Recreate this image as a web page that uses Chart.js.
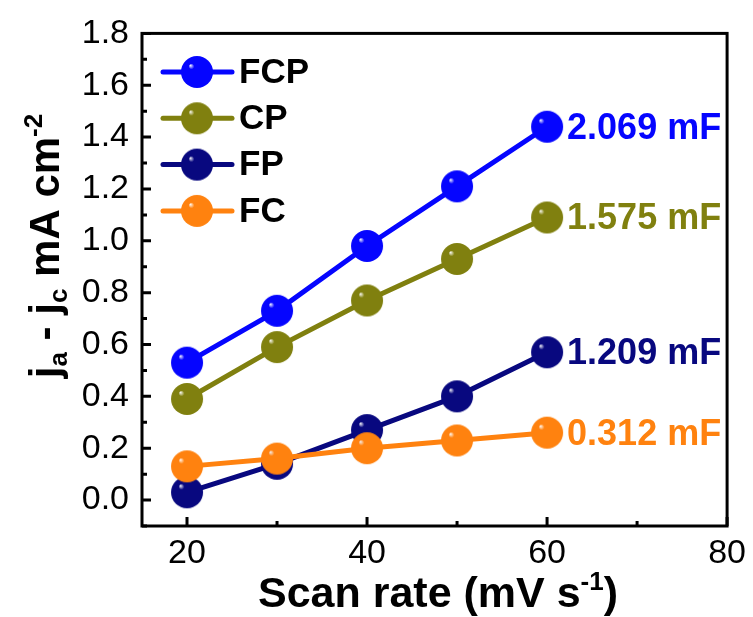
<!DOCTYPE html>
<html lang="en">

<head>
    <meta charset="UTF-8">
    <title>Scan rate vs current density difference</title>
    <script src="https://cdn.jsdelivr.net/npm/chart.js"></script>
    <style>
        html, body { margin: 0; padding: 0; background: #fff; }
        #wrap { width: 753px; height: 617px; }
    </style>
</head>

<body>
    <div id="wrap">
        <canvas id="cdlChart" width="753" height="617"></canvas>
    </div>

    <script>
        // Scan rates (mV/s) and j_a - j_c (mA cm-2) per sample
        const scanRate = [20, 30, 40, 50, 60];
        const seriesNames = ['FCP', 'CP', 'FP', 'FC'];
        const fcpValues = [0.53, 0.73, 0.98, 1.21, 1.44];
        const cpValues = [0.39, 0.59, 0.77, 0.93, 1.09];
        const fpValues = [0.03, 0.14, 0.27, 0.40, 0.57];
        const fcValues = [0.13, 0.16, 0.20, 0.23, 0.26];
        const capLabels = ['2.069 mF', '1.575 mF', '1.209 mF', '0.312 mF'];
        const xTickValues = [20, 40, 60, 80];
        const xMinorValues = [30, 50, 70];
        const yTickValues = [0.0, 0.2, 0.4, 0.6, 0.8, 1.0, 1.2, 1.4, 1.6, 1.8];
        const yMinorValues = [-0.1, 0.1, 0.3, 0.5, 0.7, 0.9, 1.1, 1.3, 1.5, 1.7];

        const colors = ['#0505ff', '#80800f', '#08087f', '#ff820f'];
        const FONT = '"Liberation Sans", Arial, Helvetica, sans-serif';

        // shaded ball used as point marker
        function makeBall(color, r) {
            const c = document.createElement('canvas');
            const s = r * 2 + 2;
            c.width = s; c.height = s;
            const g = c.getContext('2d');
            const cx = s / 2, cy = s / 2;
            const grad = g.createRadialGradient(cx - r * 0.42, cy - r * 0.42, 0, cx, cy, r);
            grad.addColorStop(0, 'rgba(255,255,255,0.95)');
            grad.addColorStop(0.18, color);
            grad.addColorStop(1, color);
            g.fillStyle = grad;
            g.beginPath();
            g.arc(cx, cy, r, 0, Math.PI * 2);
            g.fill();
            return c;
        }

        const balls = colors.map(c => makeBall(c, 16));
        const allValues = [fcpValues, cpValues, fpValues, fcValues];
        const drawOrder = [1, 2, 3, 0];

        const datasets = seriesNames.map((name, i) => ({
            label: name,
            data: scanRate.map((x, k) => ({ x: x, y: allValues[i][k] })),
            borderColor: colors[i],
            backgroundColor: colors[i],
            borderWidth: 5,
            showLine: true,
            pointStyle: balls[i],
            pointRadius: 16,
            pointHoverRadius: 16,
            order: drawOrder[i]
        }));

        // frame, inward ticks, legend, capacitance labels, axis titles
        const decor = {
            id: 'decor',
            afterDraw(chart) {
                const ctx = chart.ctx;
                const a = chart.chartArea;
                const xs = chart.scales.x, ys = chart.scales.y;
                ctx.save();
                ctx.strokeStyle = '#000';
                ctx.lineWidth = 3;
                ctx.strokeRect(a.left, a.top, a.right - a.left, a.bottom - a.top);

                ctx.lineWidth = 3;
                ctx.beginPath();
                xTickValues.forEach(v => {
                    const px = xs.getPixelForValue(v);
                    ctx.moveTo(px, a.bottom); ctx.lineTo(px, a.bottom - 9);
                });
                xMinorValues.forEach(v => {
                    const px = xs.getPixelForValue(v);
                    ctx.moveTo(px, a.bottom); ctx.lineTo(px, a.bottom - 5);
                });
                yTickValues.forEach(v => {
                    const py = ys.getPixelForValue(v);
                    ctx.moveTo(a.left, py); ctx.lineTo(a.left + 9, py);
                });
                yMinorValues.forEach(v => {
                    const py = ys.getPixelForValue(v);
                    ctx.moveTo(a.left, py); ctx.lineTo(a.left + 5, py);
                });
                ctx.stroke();

                // legend
                ctx.font = 'bold 35px ' + FONT;
                ctx.textBaseline = 'middle';
                ctx.textAlign = 'left';
                seriesNames.forEach((name, i) => {
                    const y = 72 + i * 46.3;
                    ctx.strokeStyle = colors[i];
                    ctx.lineWidth = 5;
                    ctx.lineCap = 'round';
                    ctx.beginPath();
                    ctx.moveTo(163, y); ctx.lineTo(232, y);
                    ctx.stroke();
                    ctx.drawImage(balls[i], 197 - balls[i].width / 2, y - balls[i].height / 2);
                    ctx.fillStyle = '#000';
                    ctx.fillText(name, 239, y + 1);
                });

                // capacitance labels next to the last point
                ctx.font = 'bold 36px ' + FONT;
                chart.data.datasets.forEach((ds, i) => {
                    const last = ds.data[ds.data.length - 1];
                    const px = xs.getPixelForValue(last.x);
                    const py = ys.getPixelForValue(last.y);
                    ctx.fillStyle = colors[i];
                    ctx.fillText(capLabels[i], px + 20, py + 2);
                });

                // x title with superscript
                ctx.fillStyle = '#000';
                ctx.textBaseline = 'alphabetic';
                const big = 'bold 43px ' + FONT, small = 'bold 26px ' + FONT;
                const xParts = [['Scan rate (mV s', big, 0], ['-1', small, -17], [')', big, 0]];
                drawParts(ctx, xParts, 438, 607);

                // y title, rotated
                const yBig = 'bold 42px ' + FONT, ySmall = 'bold 26px ' + FONT;
                ctx.translate(59, 246);
                ctx.rotate(-Math.PI / 2);
                const yParts = [['j', yBig, 0], ['a', ySmall, 8], [' - j', yBig, 0], ['c', ySmall, 8],
                    [' mA cm', yBig, 0], ['-2', ySmall, -17]];
                drawParts(ctx, yParts, 0, 0);
                ctx.restore();
            }
        };

        function drawParts(ctx, parts, cx, baseY) {
            let total = 0;
            parts.forEach(p => { ctx.font = p[1]; total += ctx.measureText(p[0]).width; });
            let x = cx - total / 2;
            ctx.textAlign = 'left';
            parts.forEach(p => {
                ctx.font = p[1];
                ctx.fillText(p[0], x, baseY + p[2]);
                x += ctx.measureText(p[0]).width;
            });
        }

        const ctx = document.getElementById('cdlChart').getContext('2d');
        const chart = new Chart(ctx, {
            type: 'scatter',
            data: { datasets: datasets },
            options: {
                responsive: false,
                animation: false,
                layout: { padding: { top: 32, right: 20, left: 0, bottom: 0 } },
                plugins: { legend: { display: false }, tooltip: { enabled: false } },
                scales: {
                    x: {
                        type: 'linear',
                        min: 15, max: 80,
                        afterBuildTicks: s => { s.ticks = xTickValues.map(v => ({ value: v })); },
                        afterFit: s => { s.height = 91; },
                        grid: { display: false, drawTicks: false },
                        border: { display: false },
                        ticks: {
                            color: '#000',
                            padding: 7,
                            font: { family: FONT, size: 34 },
                            maxRotation: 0
                        }
                    },
                    y: {
                        min: -0.1, max: 1.8,
                        afterBuildTicks: s => { s.ticks = yTickValues.map(v => ({ value: v })); },
                        afterFit: s => { s.width = 142; },
                        grid: { display: false, drawTicks: false },
                        border: { display: false },
                        ticks: {
                            color: '#000',
                            padding: 13,
                            font: { family: FONT, size: 34 },
                            callback: v => v.toFixed(1)
                        }
                    }
                }
            },
            plugins: [decor]
        });
    </script>
</body>

</html>
